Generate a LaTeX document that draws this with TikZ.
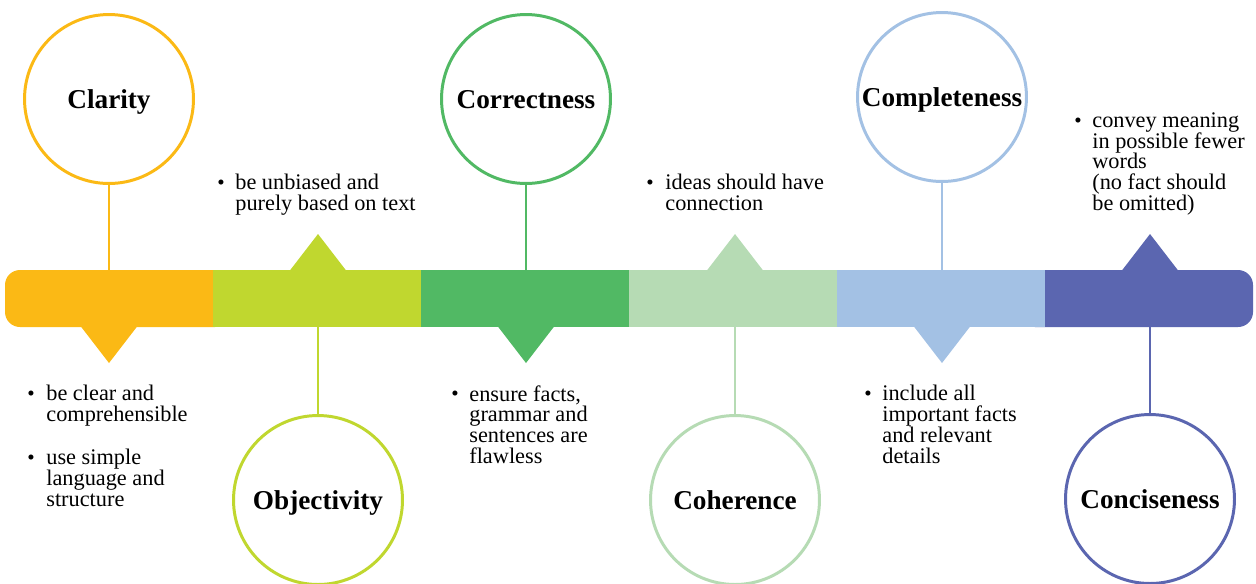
\documentclass[tikz,border=0pt]{standalone}
\usepackage{fontspec}
\setmainfont{Liberation Serif}
\usetikzlibrary{positioning}
\definecolor{clarityc}{HTML}{FBB915}
\definecolor{objectc}{HTML}{C0D72F}
\definecolor{correctc}{HTML}{51B964}
\definecolor{coherec}{HTML}{B6DBB4}
\definecolor{completec}{HTML}{A3C1E4}
\definecolor{concisec}{HTML}{5B66B0}

\begin{document}
\begin{tikzpicture}[x=0.02cm, y=-0.02cm,
  topic/.style={circle, draw=#1, line width=1.7pt, fill=white, minimum size=3.38cm,
    inner sep=0pt, text height=10.4pt, text depth=0pt, font=\fontsize{15.5}{18}\selectfont\bfseries},
  stem/.style={draw=#1, line width=1.4pt},
  note/.style={anchor=north west, align=left, inner sep=0pt, font=\fontsize{12.7}{11.9}\selectfont},
  dot/.style={anchor=base, inner sep=0pt, font=\fontsize{12}{12}\selectfont},
]
\useasboundingbox (0,0) rectangle (1256,583);

% timeline bar
\fill[concisec, rounded corners=0.3cm] (1020,270) rectangle (1253,327);
\fill[clarityc, rounded corners=0.3cm] (5,270) rectangle (230,327);
\fill[objectc] (213,270) rectangle (421,327);
\fill[correctc] (421,270) rectangle (629,327);
\fill[coherec] (629,270) rectangle (837,327);
\fill[completec] (837,270) rectangle (1045,327);

% markers
\fill[clarityc] (80.5,326) -- (109,363) -- (137.5,326) -- cycle;
\fill[objectc] (289.5,271) -- (318,234) -- (346.5,271) -- cycle;
\fill[correctc] (497.5,326) -- (526,363) -- (554.5,326) -- cycle;
\fill[coherec] (706.5,271) -- (735,234) -- (763.5,271) -- cycle;
\fill[completec] (913.5,326) -- (942,363) -- (970.5,326) -- cycle;
\fill[concisec] (1121.5,271) -- (1150,234) -- (1178.5,271) -- cycle;

\coordinate (barA) at (109,270);
\coordinate (barB) at (318,327);
\coordinate (barC) at (526,270);
\coordinate (barD) at (735,327);
\coordinate (barE) at (942,270);
\coordinate (barF) at (1150,327);

% topics
\node[topic=clarityc] (clarity) at (109,99) {Clarity};
\node[topic=objectc] (objectivity) at (318,500) {Objectivity};
\node[topic=correctc] (correctness) at (526,99) {Correctness};
\node[topic=coherec] (coherence) at (735,500) {Coherence};
\node[topic=completec] (completeness) at (942,97) {Completeness};
\node[topic=concisec] (conciseness) at (1150,499) {Conciseness};

\draw[stem=clarityc] (clarity) -- (barA);
\draw[stem=objectc] (objectivity) -- (barB);
\draw[stem=correctc] (correctness) -- (barC);
\draw[stem=coherec] (coherence) -- (barD);
\draw[stem=completec] (completeness) -- (barE);
\draw[stem=concisec] (conciseness) -- (barF);

% notes
\node[dot] (clarityb1) at (31,400) {\textbullet};
\node[note] (clarityn1) at (46,385) {be clear and\\comprehensible};
\node[dot] (clarityb2) at (31,464) {\textbullet};
\node[note] (clarityn2) at (46,449) {use simple\\language and\\structure};
\node[dot] (objectb) at (221,189) {\textbullet};
\node[note] (objectn) at (235,174) {be unbiased and\\purely based on text};
\node[dot] (correctb) at (455,400) {\textbullet};
\node[note] (correctn) at (469,385) {ensure facts,\\grammar and\\sentences are\\flawless};
\node[dot] (chereb) at (650,189) {\textbullet};
\node[note] (cheren) at (665,174) {ideas should have\\connection};
\node[dot] (completeb) at (868,400) {\textbullet};
\node[note] (completen) at (882,385) {include all\\important facts\\and relevant\\details};
\node[dot] (conciseb) at (1078,127) {\textbullet};
\node[note] (concisen) at (1092,112) {convey meaning\\in possible fewer\\words\\(no fact should\\be omitted)};
\end{tikzpicture}
\end{document}
